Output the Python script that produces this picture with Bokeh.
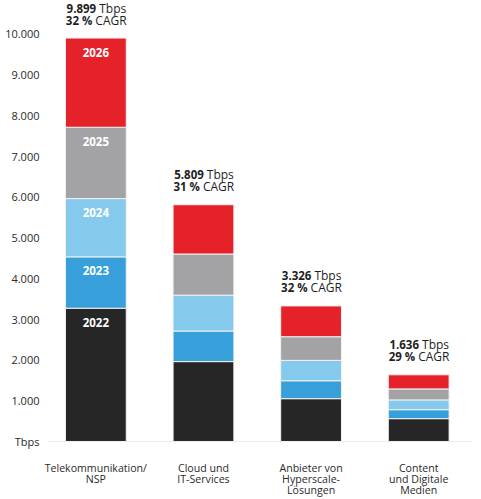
from bokeh.plotting import figure
from bokeh.models import ColumnDataSource, FixedTicker, Range1d
from bokeh.core.properties import value
from bokeh.embed import file_html
from bokeh.resources import INLINE

# Data (Tbps)
categories = ["Telekommunikation/\nNSP", "Cloud und\nIT-Services",
              "Anbieter von\nHyperscale-\nLösungen", "Content\nund Digitale\nMedien"]
years = ["2022", "2023", "2024", "2025", "2026"]
y2022 = [3270, 1960, 1050, 560]
y2023 = [1260, 750, 440, 220]
y2024 = [1430, 880, 500, 240]
y2025 = [1750, 1010, 580, 270]
y2026 = [2189, 1209, 756, 346]
totals = [9899, 5809, 3326, 1636]
cagr = [32, 31, 32, 29]

y_ticks = [0, 1000, 2000, 3000, 4000, 5000, 6000, 7000, 8000, 9000, 10000]
y_tick_labels = ["Tbps", "1.000", "2.000", "3.000", "4.000", "5.000",
                 "6.000", "7.000", "8.000", "9.000", "10.000"]

colors = ["#262626", "#379fd9", "#85c9ed", "#a3a3a5", "#e52229"]
FONT = "Open Sans"

xs = list(range(len(categories)))
src = ColumnDataSource(dict(x=xs, **{"2022": y2022, "2023": y2023, "2024": y2024,
                                     "2025": y2025, "2026": y2026}))

p = figure(width=481, height=499, x_range=Range1d(-0.44, 3.5), y_range=Range1d(-25, 10820),
           output_backend="svg", toolbar_location=None, tools="",
           min_border_left=48, min_border_right=9, min_border_top=0, min_border_bottom=56)
p.outline_line_color = None
p.background_fill_color = "white"

p.vbar_stack(years, x="x", width=0.565, color=colors, line_color="#f2f2f2", line_width=1, source=src)

# year labels inside first bar
first = [y2022[0], y2023[0], y2024[0], y2025[0], y2026[0]]
seg_tops = []
acc = 0
for v in first:
    acc += v
    seg_tops.append(acc)
p.text(x=[xs[0]] * 5, y=seg_tops, text=years, text_color="white", text_font=value(FONT),
       text_font_style="bold", text_font_size="11.5px", text_align="center",
       text_baseline="middle", y_offset=14)

# approximate text widths (Open Sans) for mixed-weight labels
W = {"0": .572, "1": .572, "2": .572, "3": .572, "4": .572, "5": .572, "6": .572, "7": .572,
     "8": .572, "9": .572, ".": .28, " ": .26, "%": .85, "T": .55, "b": .61, "p": .61,
     "s": .48, "C": .63, "A": .63, "G": .72, "R": .62}


def tw(s, size):
    return sum(W.get(c, .6) for c in s) * size


def mixed(bold_txt, reg_txt, dy):
    size = 11.5
    gap = 3
    b_off, r_off = [], []
    for b, r in zip(bold_txt, reg_txt):
        total = tw(b, size) + gap + tw(r, size)
        b_off.append(-total / 2 + tw(b, size))
        r_off.append(-total / 2 + tw(b, size) + gap)
    s = ColumnDataSource(dict(x=xs, y=totals, b=bold_txt, r=reg_txt, bo=b_off, ro=r_off))
    p.text(x="x", y="y", text="b", x_offset="bo", y_offset=dy, source=s, text_align="right",
           text_baseline="middle", text_font=value(FONT), text_font_style="bold",
           text_font_size="11.5px", text_color="#1e1e1e")
    p.text(x="x", y="y", text="r", x_offset="ro", y_offset=dy, source=s, text_align="left",
           text_baseline="middle", text_font=value(FONT), text_font_size="12px",
           text_color="#1e1e1e")


mixed([f"{t:,}".replace(",", ".") for t in totals], ["Tbps"] * 4, -30)
mixed([f"{c} %" for c in cagr], ["CAGR"] * 4, -18)

# axes
p.yaxis.ticker = FixedTicker(ticks=y_ticks)
p.yaxis.major_label_overrides = dict(zip(y_ticks, y_tick_labels))
p.yaxis.axis_line_color = None
p.yaxis.major_tick_line_color = None
p.yaxis.minor_tick_line_color = None
p.yaxis.major_tick_out = 0
p.yaxis.major_tick_in = 0
p.yaxis.major_label_standoff = 9
p.yaxis.major_label_text_font = FONT
p.yaxis.major_label_text_font_size = "11px"
p.yaxis.major_label_text_color = "#2a2a2a"

p.xaxis.ticker = FixedTicker(ticks=xs)
p.xaxis.major_label_overrides = dict(zip(xs, categories))
p.xaxis.axis_line_color = None
p.xaxis.major_tick_line_color = None
p.xaxis.minor_tick_line_color = None
p.xaxis.major_tick_out = 0
p.xaxis.major_tick_in = 0
p.xaxis.major_label_standoff = 18
p.xaxis.major_label_text_font = FONT
p.xaxis.major_label_text_font_size = "10.6px"
p.xaxis.major_label_text_line_height = 0.8
p.xaxis.major_label_text_color = "#2a2a2a"

p.xgrid.grid_line_color = None
p.ygrid.ticker = FixedTicker(ticks=[0])
p.ygrid.grid_line_color = "#ebebeb"
p.ygrid.level = "underlay"

open("out.html", "w").write(file_html(p, INLINE))
